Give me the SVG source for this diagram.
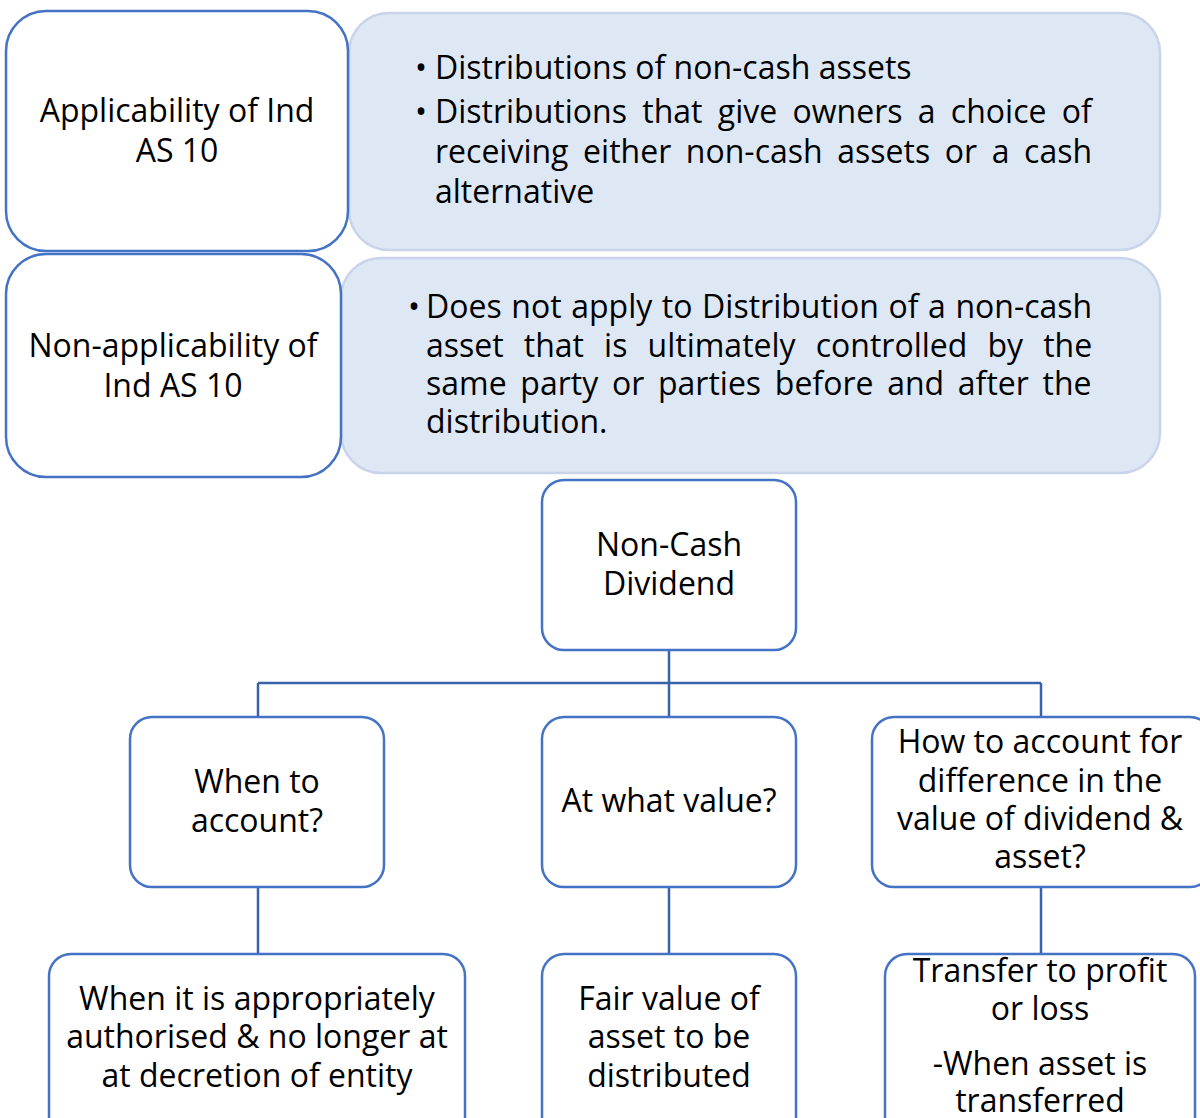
<svg xmlns="http://www.w3.org/2000/svg" width="1200" height="1118" viewBox="0 0 1200 1118">
  <style>
    .lbl { font-family: "Open Sans", "Noto Sans", "Liberation Sans", sans-serif; font-size: 32px; fill: #000000; }
    .mid { text-anchor: middle; }
    .card { fill: #ffffff; stroke: #4472C4; stroke-width: 2.5; }
    .panel { fill: #DEE8F5; stroke: #C9D3EA; stroke-width: 2.5; }
    .link { fill: none; stroke: #3A62A8; stroke-width: 2.5; }
  </style>
  <rect width="1200" height="1118" fill="#ffffff"/>

  <!-- Scope panels (justified bullet text: word-spacing fills each line to the right margin) -->
  <g id="applicability-detail">
    <rect class="panel" x="349" y="13" width="811" height="237" rx="40"/>
    <text class="lbl mid" x="421" y="79">•</text>
    <text class="lbl" x="435" y="79">Distributions of non-cash assets</text>
    <text class="lbl mid" x="421" y="123">•</text>
    <text class="lbl" x="435" y="123" word-spacing="7">Distributions that give owners a choice of</text>
    <text class="lbl" x="435" y="163" word-spacing="6.3">receiving either non-cash assets or a cash</text>
    <text class="lbl" x="435" y="203">alternative</text>
  </g>
  <g id="applicability">
    <rect class="card" x="6" y="11" width="342" height="240" rx="40"/>
    <text class="lbl mid" x="177" y="122">Applicability of Ind</text>
    <text class="lbl mid" x="177" y="162">AS 10</text>
  </g>

  <g id="non-applicability-detail">
    <rect class="panel" x="341" y="258" width="819" height="215" rx="40"/>
    <text class="lbl mid" x="414" y="318">•</text>
    <text class="lbl" x="426" y="318" word-spacing="1.3">Does not apply to Distribution of a non-cash</text>
    <text class="lbl" x="426" y="357" word-spacing="11.8">asset that is ultimately controlled by the</text>
    <text class="lbl" x="426" y="395" word-spacing="5.4">same party or parties before and after the</text>
    <text class="lbl" x="426" y="433">distribution.</text>
  </g>
  <g id="non-applicability">
    <rect class="card" x="6" y="254" width="335" height="223" rx="40"/>
    <text class="lbl mid" x="173" y="357">Non-applicability of</text>
    <text class="lbl mid" x="173" y="397">Ind AS 10</text>
  </g>

  <!-- Hierarchy connectors -->
  <g id="connectors">
    <path class="link" d="M669,650 V683 M258,683 H1041 M258,683 V717 M669,683 V717 M1041,683 V717"/>
    <path class="link" d="M258,887 V954 M669,887 V954 M1041,887 V954"/>
  </g>

  <!-- Hierarchy nodes -->
  <g id="non-cash-dividend">
    <rect class="card" x="542" y="480" width="254" height="170" rx="22"/>
    <text class="lbl mid" x="669" y="556">Non-Cash</text>
    <text class="lbl mid" x="669" y="595">Dividend</text>
  </g>
  <g id="when-to-account">
    <rect class="card" x="130" y="717" width="254" height="170" rx="22"/>
    <text class="lbl mid" x="257" y="793">When to</text>
    <text class="lbl mid" x="257" y="832">account?</text>
  </g>
  <g id="at-what-value">
    <rect class="card" x="542" y="717" width="254" height="170" rx="22"/>
    <text class="lbl mid" x="669" y="812">At what value?</text>
  </g>
  <g id="difference">
    <rect class="card" x="872" y="717" width="340" height="170" rx="22"/>
    <text class="lbl mid" x="1040" y="753">How to account for</text>
    <text class="lbl mid" x="1040" y="792">difference in the</text>
    <text class="lbl mid" x="1040" y="830">value of dividend &amp;</text>
    <text class="lbl mid" x="1040" y="868">asset?</text>
  </g>
  <g id="authorised">
    <rect class="card" x="49" y="954" width="416" height="190" rx="22"/>
    <text class="lbl mid" x="257" y="1010">When it is appropriately</text>
    <text class="lbl mid" x="257" y="1048">authorised &amp; no longer at</text>
    <text class="lbl mid" x="257" y="1087">at decretion of entity</text>
  </g>
  <g id="fair-value">
    <rect class="card" x="542" y="954" width="254" height="190" rx="22"/>
    <text class="lbl mid" x="669" y="1010">Fair value of</text>
    <text class="lbl mid" x="669" y="1048">asset to be</text>
    <text class="lbl mid" x="669" y="1087">distributed</text>
  </g>
  <g id="profit-or-loss">
    <rect class="card" x="885" y="954" width="310" height="190" rx="22"/>
    <text class="lbl mid" x="1040" y="982">Transfer to profit</text>
    <text class="lbl mid" x="1040" y="1020">or loss</text>
    <text class="lbl mid" x="1040" y="1075">-When asset is</text>
    <text class="lbl mid" x="1040" y="1112">transferred</text>
  </g>
</svg>
